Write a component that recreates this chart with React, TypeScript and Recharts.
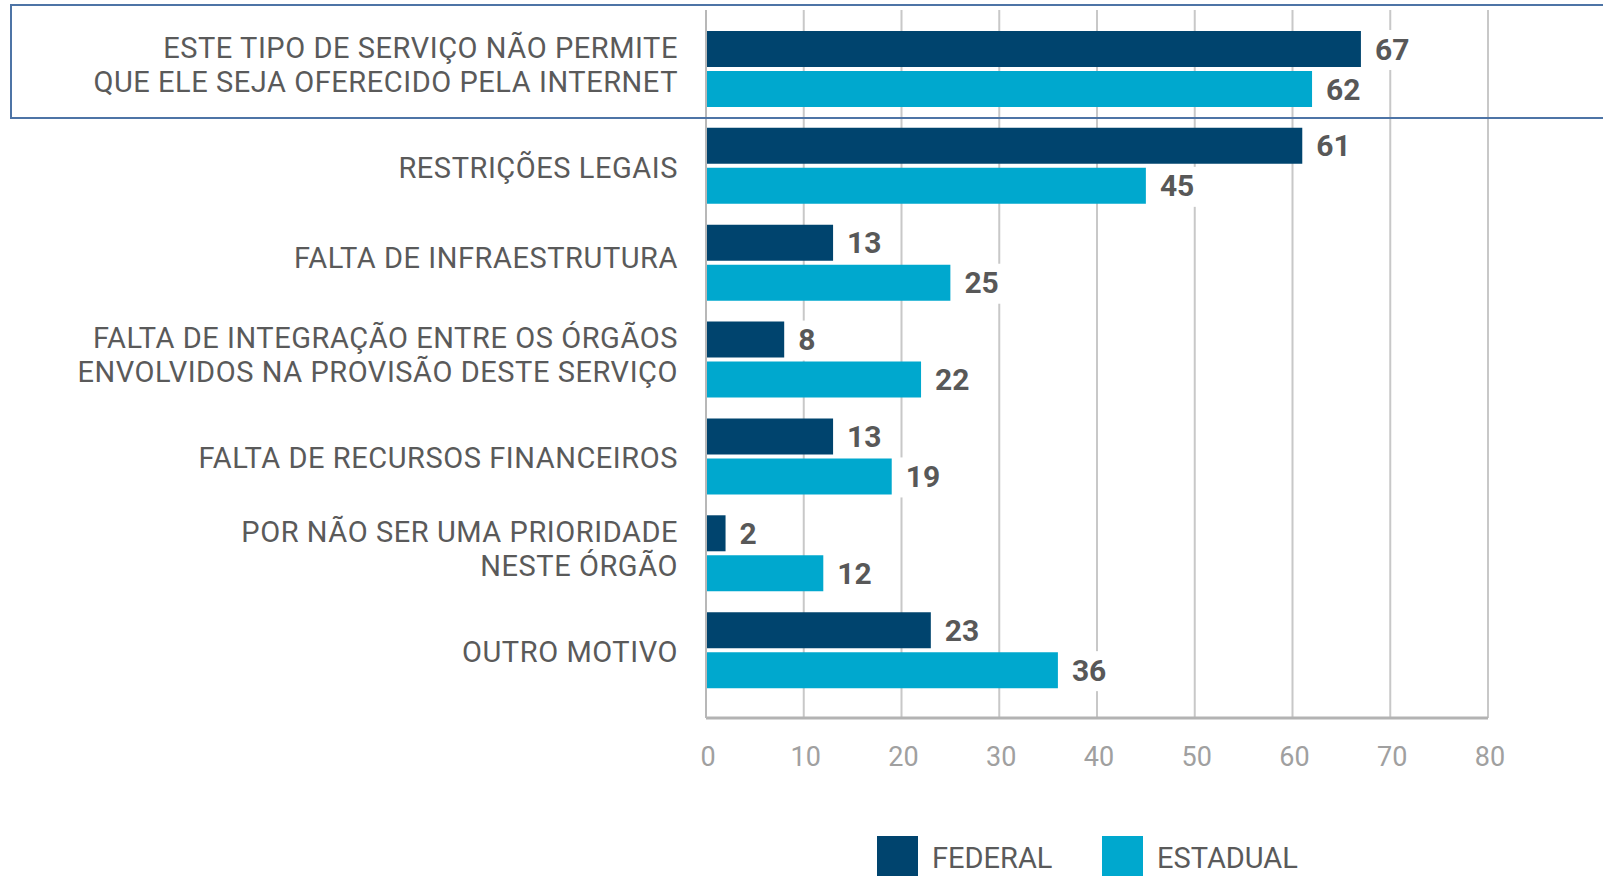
import React from 'react';
import { BarChart, Bar, XAxis, YAxis, CartesianGrid, LabelList } from 'recharts';

const categories = [
  'ESTE TIPO DE SERVIÇO NÃO PERMITE\nQUE ELE SEJA OFERECIDO PELA INTERNET',
  'RESTRIÇÕES LEGAIS',
  'FALTA DE INFRAESTRUTURA',
  'FALTA DE INTEGRAÇÃO ENTRE OS ÓRGÃOS\nENVOLVIDOS NA PROVISÃO DESTE SERVIÇO',
  'FALTA DE RECURSOS FINANCEIROS',
  'POR NÃO SER UMA PRIORIDADE\nNESTE ÓRGÃO',
  'OUTRO MOTIVO',
];
const federal = [67, 61, 13, 8, 13, 2, 23];
const estadual = [62, 45, 25, 22, 19, 12, 36];
const xTicks = [0, 10, 20, 30, 40, 50, 60, 70, 80];
const seriesNames = ['FEDERAL', 'ESTADUAL'];
const seriesColors = ['#00446e', '#00a8ce'];

const data = categories.map((name, i) => ({ name, federal: federal[i], estadual: estadual[i] }));

const FONT = 'Roboto, "Liberation Sans", sans-serif';

const CategoryTick = (props: any) => {
  const { x, y, payload } = props;
  const lines = String(payload.value).split('\n');
  const lh = 34;
  const nudge = payload && payload.index === 2 ? -6 : 0;
  const first = (lines.length === 1 ? 1 : -22) + nudge;
  return (
    <g>
      {lines.map((l, i) => (
        <text
          key={i}
          x={x}
          y={y + first + i * lh + 10.3}
          textAnchor="end"
          fontFamily={FONT}
          fontSize={29}
          letterSpacing={0.55}
          fill="#5a5a5a"
        >
          {l}
        </text>
      ))}
    </g>
  );
};

const ValueLabel = (props: any) => {
  const { x, y, width, height, value } = props;
  const ex = Number(x) + Number(width);
  const cy = Number(y) + Number(height) / 2;
  const tw = String(value).length * 17;
  return (
    <g>
      <rect x={ex + 4} y={cy - 19} width={tw + 16} height={40} fill="#ffffff" />
      <text x={ex + 14} y={cy + 10.5} fontFamily={FONT} fontWeight="bold" fontSize={30} fill="#585858">
        {value}
      </text>
    </g>
  );
};

export default function App() {
  return (
    <div style={{ position: 'absolute', left: 0, top: 0, width: 1603, height: 876, overflow: 'hidden', background: '#fff' }}>
      <BarChart
        width={1603}
        height={876}
        data={data}
        layout="vertical"
        margin={{ top: 10, right: 115, left: 0, bottom: 98 }}
        barGap={4}
        barSize={36}
      >
        <CartesianGrid horizontal={false} vertical={true} stroke="#c8c8c8" strokeWidth={2} />
        <XAxis
          type="number"
          domain={[0, 80]}
          ticks={xTicks}
          interval={0}
          height={60}
          tickLine={false}
          tickSize={0}
          tickMargin={29}
          axisLine={{ stroke: '#b3b3b3', strokeWidth: 3 }}
          tick={{ fill: '#a0a0a0', fontSize: 27, fontFamily: FONT, dx: 2 }}
        />
        <YAxis
          type="category"
          dataKey="name"
          width={706}
          interval={0}
          tickLine={false}
          tickSize={0}
          tickMargin={28}
          padding={{ top: 11, bottom: 19 }}
          axisLine={{ stroke: '#b8b8b8', strokeWidth: 2 }}
          tick={<CategoryTick />}
        />
        <Bar dataKey="federal" name={seriesNames[0]} fill={seriesColors[0]} isAnimationActive={false}>
          <LabelList dataKey="federal" content={<ValueLabel />} />
        </Bar>
        <Bar dataKey="estadual" name={seriesNames[1]} fill={seriesColors[1]} isAnimationActive={false}>
          <LabelList dataKey="estadual" content={<ValueLabel />} />
        </Bar>
      </BarChart>
      <div
        style={{
          position: 'absolute',
          left: 10,
          top: 4,
          width: 1700,
          height: 111,
          border: '2px solid #4d74a6',
          pointerEvents: 'none',
        }}
      />
      {seriesNames.map((n, i) => (
        <div
          key={n}
          style={{
            position: 'absolute',
            left: i === 0 ? 877 : 1102,
            top: 836,
            display: 'flex',
            alignItems: 'center',
            fontFamily: FONT,
            fontSize: 29,
            color: '#5a5a5a',
          }}
        >
          <div style={{ width: 41, height: 42, background: seriesColors[i], marginRight: 14 }} />
          <span style={{ lineHeight: '42px', position: 'relative', top: 1 }}>{n}</span>
        </div>
      ))}
    </div>
  );
}
